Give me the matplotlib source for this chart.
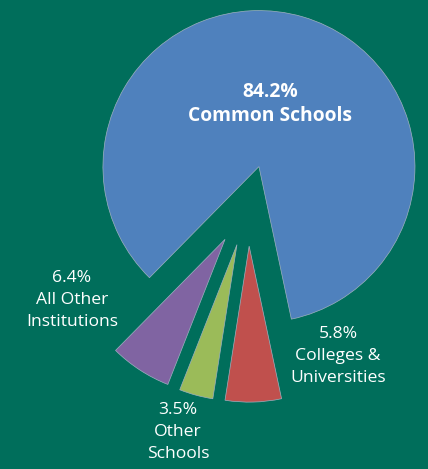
import matplotlib.pyplot as plt

categories = ["Common Schools", "All Other Institutions", "Other Schools", "Colleges & Universities"]
shares = [84.2, 6.4, 3.5, 5.8]
labels = ["84.2%\nCommon Schools", "6.4%\nAll Other\nInstitutions", "3.5%\nOther\nSchools", "5.8%\nColleges &\nUniversities"]
colors = ["#4f81bd", "#8064a2", "#9bbb59", "#c0504d"]

bg = "#006e5b"
W, H = 428, 469
fig = plt.figure(figsize=(W / 100, H / 100), dpi=100, facecolor=bg)
ax = fig.add_axes([0, 0, 1, 1])
ax.set_facecolor(bg)

wedges, _ = ax.pie(shares, colors=colors, startangle=282, counterclock=True,
                   explode=[0.25, 0.27, 0.27, 0.27],
                   wedgeprops=dict(edgecolor="#9fb0c0", linewidth=0.5))

# pie centre at pixel (248, 204), radius 156 px
cx, cy, r = 248, 204, 156
ax.set_xlim(-cx / r, (W - cx) / r)
ax.set_ylim(-(H - cy) / r, cy / r)
ax.axis("off")

font = "Open Sans"
def px(x, y):
    return x / W, 1 - y / H

fig.text(*px(270, 104), labels[0], color="white", fontsize=13.9, fontweight="bold",
         ha="center", va="center", linespacing=1.22, family=font)
fig.text(*px(72, 300), labels[1], color="white", fontsize=12.6,
         ha="center", va="center", linespacing=1.5, family=font)
fig.text(*px(178, 432), labels[2], color="white", fontsize=12.6,
         ha="center", va="center", linespacing=1.5, family=font)
fig.text(*px(338, 356), labels[3], color="white", fontsize=12.6,
         ha="center", va="center", linespacing=1.5, family=font)

fig.savefig("out.png", dpi=100, facecolor=bg)
